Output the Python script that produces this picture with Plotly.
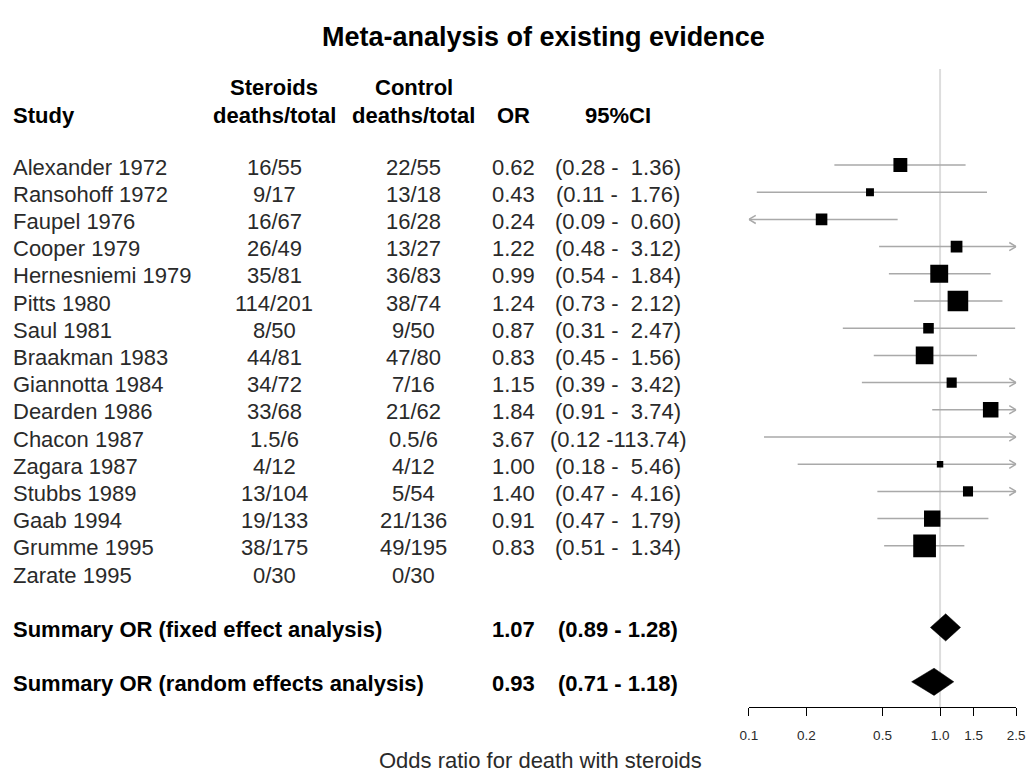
import math
import plotly.graph_objects as go

# ---------------- data ----------------
studies = ["Alexander 1972", "Ransohoff 1972", "Faupel 1976", "Cooper 1979",
           "Hernesniemi 1979", "Pitts 1980", "Saul 1981", "Braakman 1983",
           "Giannotta 1984", "Dearden 1986", "Chacon 1987", "Zagara 1987",
           "Stubbs 1989", "Gaab 1994", "Grumme 1995", "Zarate 1995"]
steroids = ["16/55", "9/17", "16/67", "26/49", "35/81", "114/201", "8/50", "44/81",
            "34/72", "33/68", "1.5/6", "4/12", "13/104", "19/133", "38/175", "0/30"]
controls = ["22/55", "13/18", "16/28", "13/27", "36/83", "38/74", "9/50", "47/80",
            "7/16", "21/62", "0.5/6", "4/12", "5/54", "21/136", "49/195", "0/30"]
odds_ratio = [0.62, 0.43, 0.24, 1.22, 0.99, 1.24, 0.87, 0.83, 1.15, 1.84, 3.67, 1.00,
              1.40, 0.91, 0.83, None]
ci_low = [0.28, 0.11, 0.09, 0.48, 0.54, 0.73, 0.31, 0.45, 0.39, 0.91, 0.12, 0.18,
          0.47, 0.47, 0.51, None]
ci_high = [1.36, 1.76, 0.60, 3.12, 1.84, 2.12, 2.47, 1.56, 3.42, 3.74, 113.74, 5.46,
           4.16, 1.79, 1.34, None]

summary_labels = ["Summary OR (fixed effect analysis)",
                  "Summary OR (random effects analysis)"]
summary_or = [1.07, 0.93]
summary_low = [0.89, 0.71]
summary_high = [1.28, 1.18]

tick_vals = [0.1, 0.2, 0.5, 1.0, 1.5, 2.5]
tick_text = ["0.1", "0.2", "0.5", "1.0", "1.5", "2.5"]

title_text = "Meta-analysis of existing evidence"
axis_title = "Odds ratio for death with steroids"

# ---------------- layout constants ----------------
W, H = 1033, 775
ROW0 = 165.0      # pixel y of first study row
ROWH = 27.2       # pixel height of a row
AXIS_PX = 707.0   # pixel y of x-axis line
XMIN, XMAX = tick_vals[0], tick_vals[-1]
FONT = "Liberation Sans, Arial, sans-serif"
GREY = "#a9a9a9"
TXT = "#2a2a2a"
FS = 22
LEFT_PX = 2


def r_of(px):
    return (px - ROW0) / ROWH


summary_rows = [len(studies) + 1, len(studies) + 3]

fig = go.Figure()

# reference line at OR = 1
fig.add_trace(go.Scatter(x=[1, 1], y=[r_of(69), r_of(AXIS_PX)], mode="lines",
                         line=dict(color="#dddddd", width=2), hoverinfo="skip"))

# confidence interval lines and arrows
xs, ys = [], []
ax_len = 0.036   # chevron length in decades
ax_h = 0.15      # chevron half height in rows
for i, (o, l, h) in enumerate(zip(odds_ratio, ci_low, ci_high)):
    if o is None:
        continue
    xs += [max(l, XMIN), min(h, XMAX), None]
    ys += [i, i, None]
    if h > XMAX:
        b = 10 ** (math.log10(XMAX) - ax_len)
        xs += [b, XMAX, b, None]
        ys += [i - ax_h, i, i + ax_h, None]
    if l < XMIN:
        b = 10 ** (math.log10(XMIN) + ax_len)
        xs += [b, XMIN, b, None]
        ys += [i - ax_h, i, i + ax_h, None]
fig.add_trace(go.Scatter(x=xs, y=ys, mode="lines", line=dict(color=GREY, width=1.5),
                         hoverinfo="skip"))

# boxes, area proportional to inverse variance
bx, by, bs = [], [], []
for i, (o, l, h) in enumerate(zip(odds_ratio, ci_low, ci_high)):
    if o is None:
        continue
    se = math.log(h / l) / (2 * 1.96)
    bx.append(o)
    by.append(i)
    bs.append(5.6 / se)
fig.add_trace(go.Scatter(x=bx, y=by, mode="markers", cliponaxis=True,
                         marker=dict(symbol="square", size=bs, color="black", opacity=1,
                                     line=dict(width=0)),
                         hoverinfo="skip"))

# summary diamonds
for r, o, l, h in zip(summary_rows, summary_or, summary_low, summary_high):
    fig.add_trace(go.Scatter(x=[l, o, h, o, l], y=[r, r - 0.5, r, r + 0.5, r],
                             mode="lines", fill="toself", fillcolor="black",
                             line=dict(color="black", width=0.5), hoverinfo="skip"))

ann = []


def text(xpx, r, s, anchor="center", bold=False, size=FS, color=TXT, yshift=-2):
    ann.append(dict(x=xpx / W, xref="paper", y=r, yref="y", text=(f"<b>{s}</b>" if bold else s),
                    showarrow=False, xanchor=anchor, yanchor="middle", yshift=yshift,
                    font=dict(family=FONT, size=size, color=color)))


NB = "\u00a0"

# title
text(544, r_of(37), title_text, bold=True, size=27, color="black", yshift=0)

# header
hdr_r1, hdr_r2 = r_of(87), r_of(115)
text(LEFT_PX, hdr_r2, "Study", anchor="left", bold=True, color="black", yshift=0)
text(270, hdr_r1, "Steroids", bold=True, color="black", yshift=0)
text(270, hdr_r2, "deaths/total", bold=True, color="black", yshift=0)
text(412, hdr_r1, "Control", bold=True, color="black", yshift=0)
text(412, hdr_r2, "deaths/total", bold=True, color="black", yshift=0)
text(513, hdr_r2, "OR", bold=True, color="black", yshift=0)
text(620, hdr_r2, "95%CI", bold=True, color="black", yshift=0)

# study rows
for i, name in enumerate(studies):
    text(LEFT_PX, i, name, anchor="left")
    text(270, i, steroids[i])
    text(412, i, controls[i])
    if odds_ratio[i] is not None:
        text(513, i, f"{odds_ratio[i]:.2f}")
        ci = f"({ci_low[i]:.2f} -{ci_high[i]:6.2f})".replace(" ", NB)
        text(620, i, ci)

# summary rows
for r, lab, o, l, h in zip(summary_rows, summary_labels, summary_or, summary_low, summary_high):
    text(LEFT_PX, r, lab, anchor="left", bold=True, color="black")
    text(513, r, f"{o:.2f}", bold=True, color="black")
    text(620, r, f"({l:.2f} - {h:.2f})".replace(" ", NB), bold=True, color="black")

# x-axis title (paper coordinates: below the axis range)
ann.append(dict(x=541 / W, xref="paper", y=1 - 760 / H, yref="paper", text=axis_title,
                showarrow=False, xanchor="center", yanchor="middle",
                font=dict(family=FONT, size=FS, color=TXT)))

fig.update_layout(
    width=W, height=H,
    margin=dict(l=0, r=0, t=0, b=0, pad=0),
    paper_bgcolor="white", plot_bgcolor="white",
    showlegend=False,
    annotations=ann,
    font=dict(family=FONT, color=TXT),
    xaxis=dict(type="log", range=[math.log10(XMIN), math.log10(XMAX)],
               domain=[753 / W, 1025 / W], anchor="y",
               tickmode="array", tickvals=tick_vals, ticktext=tick_text,
               showline=True, linecolor="black", linewidth=1,
               ticks="outside", ticklen=8, tickcolor="black", tickwidth=1,
               ticklabelstandoff=8, ticklabeloverflow="allow",
               tickfont=dict(family=FONT, size=13.5, color=TXT),
               showgrid=False, zeroline=False, fixedrange=True),
    yaxis=dict(domain=[1 - AXIS_PX / H, 1], range=[r_of(AXIS_PX), r_of(0)],
               visible=False, showgrid=False, zeroline=False, fixedrange=True),
)

fig.write_html("out.html", config={"displayModeBar": False},
               post_script="document.body.style.margin='0px';")
